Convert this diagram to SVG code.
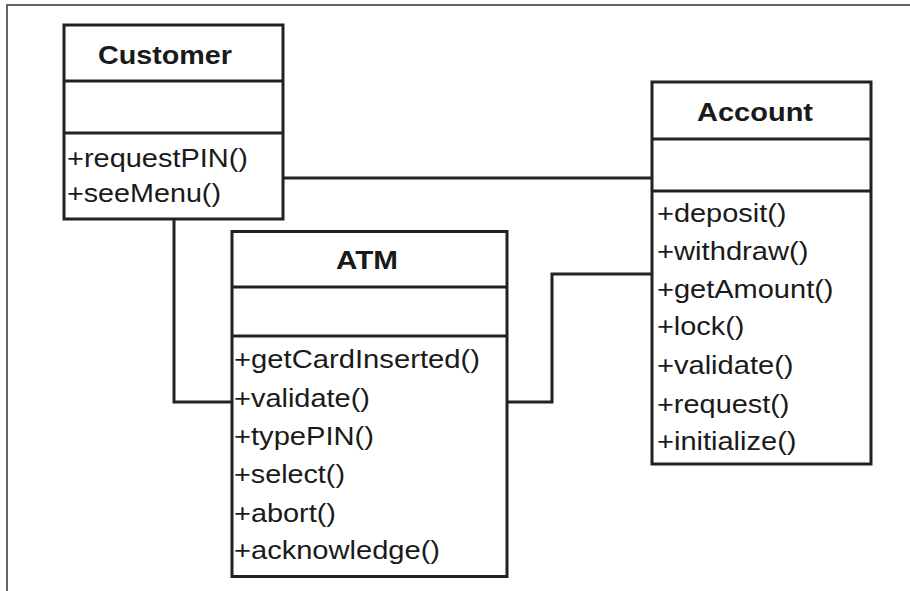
<svg xmlns="http://www.w3.org/2000/svg" width="910" height="591" viewBox="0 0 910 591">
<style>
.box{fill:#fff;stroke:#222;stroke-width:3}
.div{stroke:#222;stroke-width:3}
.conn{fill:none;stroke:#222;stroke-width:3}
.hd{font-family:"Liberation Sans",Arial,sans-serif;font-weight:bold;font-size:26px;fill:#1a1a1a}
.m{font-family:"Liberation Sans",Arial,sans-serif;font-size:26px;fill:#1a1a1a}
</style>
<rect width="910" height="591" fill="#fff"/>
<path d="M7 591 V5 H910" fill="none" stroke="#333" stroke-width="1.5"/>
<g id="connectors">
<path class="conn" d="M284 178 H651"/>
<path class="conn" d="M174 220 V402 H231"/>
<path class="conn" d="M508 402 H552 V274 H651"/>
</g>
<g id="customer">
<rect class="box" x="64" y="25" width="219" height="194"/>
<line class="div" x1="64" y1="81" x2="283" y2="81"/>
<line class="div" x1="64" y1="133" x2="283" y2="133"/>
<text class="hd" x="98" y="64" textLength="134" lengthAdjust="spacingAndGlyphs">Customer</text>
<text class="m" x="67" y="167" textLength="181" lengthAdjust="spacingAndGlyphs">+requestPIN()</text>
<text class="m" x="67" y="202" textLength="154" lengthAdjust="spacingAndGlyphs">+seeMenu()</text>
</g>
<g id="account">
<rect class="box" x="652" y="82" width="219" height="382"/>
<line class="div" x1="652" y1="139" x2="871" y2="139"/>
<line class="div" x1="652" y1="191" x2="871" y2="191"/>
<text class="hd" x="697" y="121" textLength="116" lengthAdjust="spacingAndGlyphs">Account</text>
<text class="m" x="657" y="222" textLength="129.5" lengthAdjust="spacingAndGlyphs">+deposit()</text>
<text class="m" x="657" y="260" textLength="151.5" lengthAdjust="spacingAndGlyphs">+withdraw()</text>
<text class="m" x="657" y="298" textLength="176.5" lengthAdjust="spacingAndGlyphs">+getAmount()</text>
<text class="m" x="657" y="335" textLength="87.5" lengthAdjust="spacingAndGlyphs">+lock()</text>
<text class="m" x="657" y="374" textLength="136.5" lengthAdjust="spacingAndGlyphs">+validate()</text>
<text class="m" x="657" y="413" textLength="132.5" lengthAdjust="spacingAndGlyphs">+request()</text>
<text class="m" x="657" y="450" textLength="139.5" lengthAdjust="spacingAndGlyphs">+initialize()</text>
</g>
<g id="atm">
<rect class="box" x="232" y="231.5" width="275" height="345"/>
<line class="div" x1="232" y1="287" x2="507" y2="287"/>
<line class="div" x1="232" y1="336" x2="507" y2="336"/>
<text class="hd" x="336" y="269" textLength="62" lengthAdjust="spacingAndGlyphs">ATM</text>
<text class="m" x="234" y="368" textLength="246" lengthAdjust="spacingAndGlyphs">+getCardInserted()</text>
<text class="m" x="234" y="407" textLength="136" lengthAdjust="spacingAndGlyphs">+validate()</text>
<text class="m" x="234" y="445" textLength="140" lengthAdjust="spacingAndGlyphs">+typePIN()</text>
<text class="m" x="234" y="483" textLength="111" lengthAdjust="spacingAndGlyphs">+select()</text>
<text class="m" x="234" y="522" textLength="102" lengthAdjust="spacingAndGlyphs">+abort()</text>
<text class="m" x="234" y="559" textLength="206" lengthAdjust="spacingAndGlyphs">+acknowledge()</text>
</g>
</svg>
